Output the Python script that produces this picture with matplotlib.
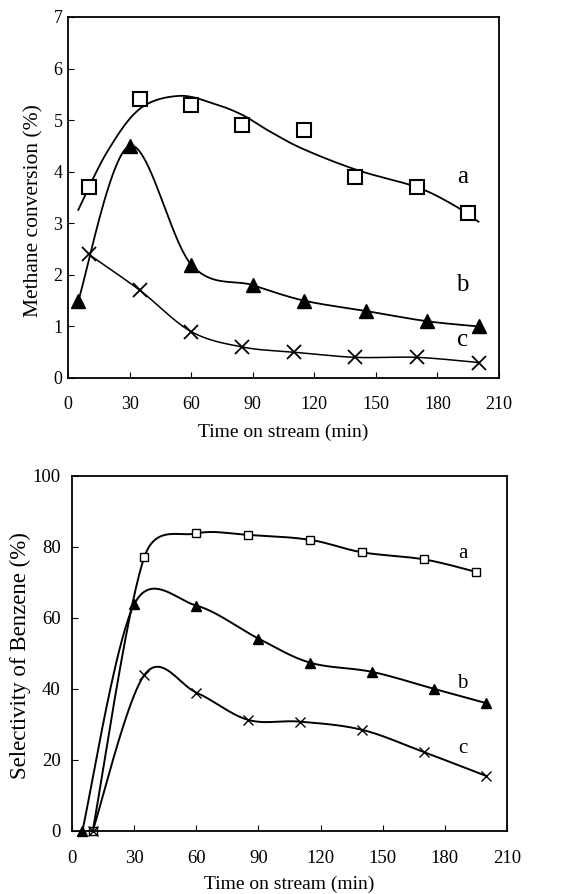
import matplotlib
matplotlib.use('Agg')
import matplotlib.pyplot as plt
import numpy as np

# methane conversion (%) vs time on stream (min)
conv_a_t = [10, 35, 60, 85, 115, 140, 170, 195]
conv_a = [3.7, 5.4, 5.3, 4.9, 4.8, 3.9, 3.7, 3.2]
# fitted curve through series a
conv_a_fit_t = [5, 19, 35, 54, 71, 85, 97, 114, 141, 170, 188, 200]
conv_a_fit = [3.26, 4.38, 5.22, 5.47, 5.32, 5.1, 4.81, 4.45, 4.03, 3.70, 3.35, 3.03]
conv_b_t = [5, 30, 60, 90, 115, 145, 175, 200]
conv_b = [1.5, 4.5, 2.2, 1.8, 1.5, 1.3, 1.1, 1.0]
conv_c_t = [10, 35, 60, 85, 110, 140, 170, 200]
conv_c = [2.4, 1.7, 0.9, 0.6, 0.5, 0.4, 0.4, 0.3]

# selectivity of benzene (%)
sel_a_t = [10, 35, 60, 85, 115, 140, 170, 195]
sel_a = [0, 77.3, 83.8, 83.4, 82.0, 78.5, 76.5, 73.0]
sel_b_t = [5, 30, 60, 90, 115, 145, 175, 200]
sel_b = [0, 63.8, 63.5, 54.2, 47.4, 44.8, 40.0, 36.0]
sel_c_t = [10, 35, 60, 85, 110, 140, 170, 200]
sel_c = [0, 44.0, 39.0, 31.3, 30.8, 28.5, 22.2, 15.5]

xticks = [0, 30, 60, 90, 120, 150, 180, 210]


def cap(h, dmax):
    d = np.hypot(*h)
    return h * (dmax / d) if d > dmax else h


def smooth(xs, ys, sx, sy, n=40):
    # smoothed line through the points (bezier, handles = (P2-P0)/6,
    # capped so they don't overshoot on short segments); sx, sy = px per unit
    p = np.column_stack([np.asarray(xs, float) * sx, np.asarray(ys, float) * sy])
    p = np.vstack([p[0], p, p[-1]])
    t = np.linspace(0, 1, n)[:, None]
    segs = []
    for i in range(1, len(p) - 2):
        p0, p1, p2, p3 = p[i - 1], p[i], p[i + 1], p[i + 2]
        d12 = np.hypot(*(p2 - p1))
        c1 = p1 + cap((p2 - p0) / 6, 0.6 * d12)
        c2 = p2 - cap((p3 - p1) / 6, 0.6 * d12)
        s = (1 - t)**3 * p1 + 3 * (1 - t)**2 * t * c1 + 3 * (1 - t) * t**2 * c2 + t**3 * p2
        segs.append(s if i == 1 else s[1:])
    s = np.vstack(segs)
    return s[:, 0] / sx, s[:, 1] / sy


def style(ax, tick_size, xpad, ypad):
    ax.set_xlim(0, 210)
    ax.set_xticks(xticks)
    ax.tick_params(direction='in', length=4, width=0.8, top=False, right=False,
                   labelsize=tick_size)
    ax.tick_params(axis='x', pad=xpad)
    ax.tick_params(axis='y', pad=ypad)
    for lab in ax.get_xticklabels() + ax.get_yticklabels():
        lab.set_fontfamily('Liberation Serif')
    for sp in ax.spines.values():
        sp.set_linewidth(1.3)


fig = plt.figure(figsize=(5.74, 8.94), dpi=100)

# top panel: 431 px for 210 min, 361 px for 7 %
sx1, sy1 = 431 / 210, 361 / 7
ax1 = fig.add_axes([0.1185, 0.5772, 0.7509, 0.4038])
x, y = smooth(conv_a_fit_t, conv_a_fit, sx1, sy1)
ax1.plot(x, y, color='black', lw=1.3)
ax1.plot(conv_a_t, conv_a, ls='none', marker='s', ms=10.5, mfc='white', mec='black', mew=1.5)
x, y = smooth(conv_b_t, conv_b, sx1, sy1)
ax1.plot(x, y, color='black', lw=1.3)
ax1.plot(conv_b_t, conv_b, ls='none', marker='^', ms=10.5, color='black')
x, y = smooth(conv_c_t, conv_c, sx1, sy1)
ax1.plot(x, y, color='black', lw=1.1)
ax1.plot(conv_c_t, conv_c, ls='none', marker='x', ms=10.5, color='black', mew=1.3)
ax1.set_ylim(0, 7)
ax1.set_yticks(range(0, 8))
style(ax1, 13, 13, 4)
ax1.set_xlabel('Time on stream (min)', fontsize=14, family='Liberation Serif')
ax1.xaxis.set_label_coords(0.5, -0.151)
ax1.xaxis.label.set_va('center')
ax1.set_ylabel('Methane conversion (%)', fontsize=15.5, family='Liberation Serif')
ax1.yaxis.set_label_coords(-0.079, 0.465)
ax1.yaxis.label.set_va('center')
for lab, yy in zip(['a', 'b', 'c'], [3.9, 1.8, 0.74]):
    ax1.text(192.3, yy, lab, fontsize=18, family='Liberation Serif', ha='center', va='center')

# bottom panel: 435 px for 210 min, 355 px for 100 %
sx2, sy2 = 435 / 210, 355 / 100
ax2 = fig.add_axes([0.1254, 0.0705, 0.7578, 0.3971])
for t, v, m, ms, fc, mew in [(sel_a_t, sel_a, 's', 6, 'white', 1.0),
                             (sel_b_t, sel_b, '^', 6.5, 'black', 1.0),
                             (sel_c_t, sel_c, 'x', 7, 'black', 1.0)]:
    x, y = smooth(t, v, sx2, sy2)
    ax2.plot(x, y, color='black', lw=1.4)
    ax2.plot(t, v, ls='none', marker=m, ms=ms, mfc=fc, mec='black', mew=mew, clip_on=False)
ax2.set_ylim(0, 100)
ax2.set_yticks(range(0, 101, 20))
style(ax2, 13.5, 14, 8)
ax2.set_xlabel('Time on stream (min)', fontsize=14, family='Liberation Serif')
ax2.xaxis.set_label_coords(0.5, -0.15)
ax2.xaxis.label.set_va('center')
ax2.set_ylabel('Selectivity of Benzene (%)', fontsize=16.5, family='Liberation Serif')
ax2.yaxis.set_label_coords(-0.1195, 0.493)
ax2.yaxis.label.set_va('center')
for lab, yy in zip(['a', 'b', 'c'], [78.2, 41.6, 23.3]):
    ax2.text(188.6, yy, lab, fontsize=15, family='Liberation Serif', ha='center', va='center')

plt.savefig('out.png', dpi=100)
